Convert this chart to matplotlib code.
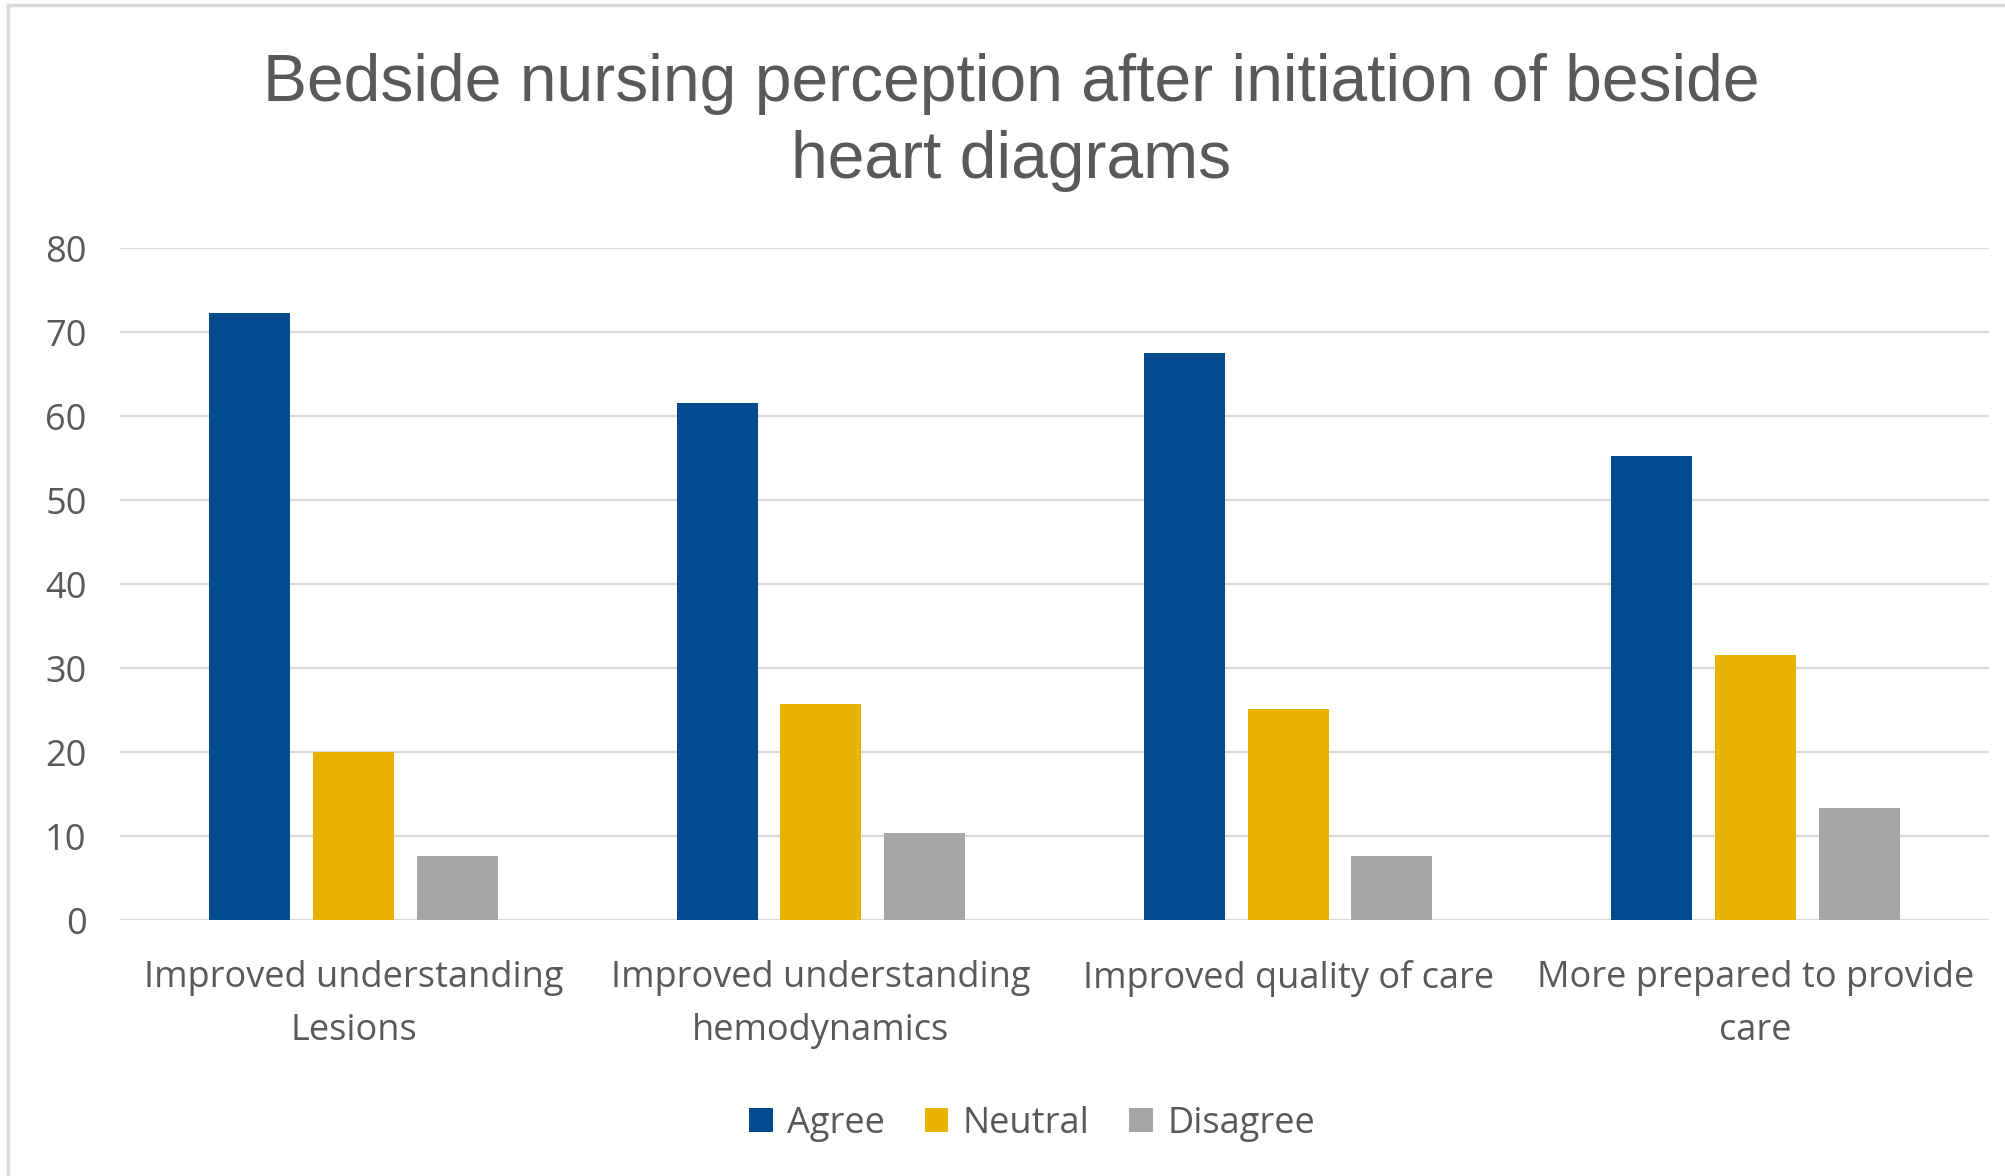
import matplotlib
matplotlib.use("Agg")
import matplotlib.pyplot as plt
from matplotlib.lines import Line2D
import numpy as np

categories = ["Improved understanding\nLesions", "Improved understanding\nhemodynamics",
              "Improved quality of care", "More prepared to provide\ncare"]
series_names = ["Agree", "Neutral", "Disagree"]
agree = [72.3, 61.6, 67.5, 55.2]
neutral = [20.0, 25.7, 25.1, 31.6]
disagree = [7.6, 10.3, 7.6, 13.3]
yticks = [0, 10, 20, 30, 40, 50, 60, 70, 80]
title = "Bedside nursing perception after initiation of beside\nheart diagrams"

colors = ["#044A8F", "#E8B300", "#A6A6A6"]
text_color = "#595959"
grid_color = "#D9D9D9"

W, H = 2006, 1176
fig = plt.figure(figsize=(W / 100, H / 100), dpi=100)
fig.patch.set_facecolor("white")

left, right = 120 / W, 1989 / W
bottom, top = 1 - 920 / H, 1 - 248 / H
ax = fig.add_axes([left, bottom, right - left, top - bottom])

x = np.arange(len(categories))
step = 0.222
width = 0.173
for i, (vals, name) in enumerate(zip([agree, neutral, disagree], series_names)):
    ax.bar(x + (i - 1) * step, vals, width=width, color=colors[i], label=name, zorder=3)

ax.set_xlim(-0.5, len(categories) - 0.5)
ax.set_ylim(0, 80)
ax.set_yticks(yticks)
ax.set_yticklabels([str(v) for v in yticks])
ax.set_xticks(x)
ax.set_xticklabels(categories, linespacing=1.62)

for s in ax.spines.values():
    s.set_visible(False)
ax.yaxis.grid(True, color=grid_color, linewidth=1.6, zorder=0)
ax.set_axisbelow(True)
ax.tick_params(axis="both", length=0, labelsize=26, labelcolor=text_color)
ax.tick_params(axis="y", pad=24)
ax.tick_params(axis="x", pad=29)
for lbl in ax.get_xticklabels() + ax.get_yticklabels():
    lbl.set_fontfamily("Open Sans")

fig.text(1011 / W, 1 - 53 / H, title, ha="center", va="top", fontsize=47.5,
         color=text_color, family="Liberation Sans", linespacing=1.32)

leg = fig.legend(loc="center", bbox_to_anchor=(1032 / W, 1 - 1124 / H), ncol=3,
                 frameon=False, prop={"family": "Open Sans", "size": 26},
                 handlelength=0.65, handleheight=0.65, handletextpad=0.4,
                 columnspacing=1.1, labelcolor=text_color)

# chart border (left and top, as in the cropped original)
fig.add_artist(Line2D([8.5 / W, 8.5 / W], [0, 1 - 4.5 / H], transform=fig.transFigure,
                      color=grid_color, linewidth=2.5))
fig.add_artist(Line2D([8.5 / W, 1], [1 - 4.5 / H, 1 - 4.5 / H], transform=fig.transFigure,
                      color=grid_color, linewidth=2.5))

fig.savefig("out.png", dpi=100)
